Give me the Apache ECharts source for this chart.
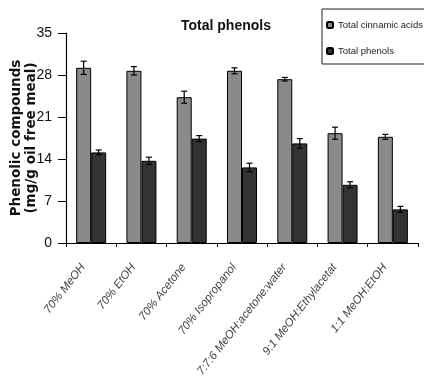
<!DOCTYPE html>
<html><head><meta charset="utf-8">
<script src="https://cdn.jsdelivr.net/npm/echarts@6/dist/echarts.min.js"></script>
<style>html,body{margin:0;padding:0;background:#fff}#c{width:424px;height:392px}</style>
</head><body><div id="c"></div>
<script>
const categories = ['70% MeOH','70% EtOH','70% Acetone','70% Isopropanol','7:7:6 MeOH:acetone:water','9:1 MeOH:Ethylacetat','1:1 MeOH:EtOH'];
const cinnamic = [29.2, 28.7, 24.3, 28.7, 27.3, 18.3, 17.7];
const cinnamicErr = [1.1, 0.7, 1.0, 0.5, 0.3, 1.0, 0.4];
const phenols = [15.1, 13.7, 17.4, 12.6, 16.6, 9.7, 5.6];
const phenolsErr = [0.4, 0.6, 0.5, 0.7, 0.8, 0.5, 0.5];
const yTicks = [0, 7, 14, 21, 28, 35];

const BW = 15;
const sans = "'Liberation Sans',Arial,sans-serif";
function errSeries(vals, errs, shift) {
  return {
    type: 'custom', z: 5, silent: true,
    data: vals.map((v, i) => [i, v, errs[i]]),
    renderItem: function (params, api) {
      const x = api.value(0), v = api.value(1), e = api.value(2);
      const top = api.coord([x, v + e]);
      const bot = api.coord([x, v - e]);
      const cx = top[0] + shift;
      const cap = 3;
      const st = { stroke: '#000', lineWidth: 1.2 };
      return { type: 'group', children: [
        { type: 'line', shape: { x1: cx, y1: top[1], x2: cx, y2: bot[1] }, style: st },
        { type: 'line', shape: { x1: cx - cap, y1: top[1], x2: cx + cap, y2: top[1] }, style: st },
        { type: 'line', shape: { x1: cx - cap, y1: bot[1], x2: cx + cap, y2: bot[1] }, style: st }
      ]};
    }
  };
}
const chart = echarts.init(document.getElementById('c'), null, { renderer: 'canvas' });
chart.setOption({
  animation: false,
  backgroundColor: '#fff',
  title: { text: 'Total phenols', left: 176, top: 14,
    textStyle: { fontFamily: sans, fontSize: 14, fontWeight: 'bold', color: '#111' } },
  legend: {
    orient: 'vertical', left: 322, top: 9, padding: [11, 30, 8, 4],
    borderColor: '#222', borderWidth: 1, itemWidth: 6, itemHeight: 6, itemGap: 16,
    textStyle: { fontFamily: sans, fontSize: 9.5, color: '#222' },
    data: ['Total cinnamic acids', 'Total phenols']
  },
  grid: { left: 66, right: 6, top: 33, bottom: 149, outerBoundsMode: 'none', containLabel: false },
  xAxis: {
    type: 'category', data: categories,
    axisLine: { lineStyle: { color: '#000', width: 1.2 } },
    axisTick: { show: true, length: 4, lineStyle: { color: '#000' } },
    axisLabel: { rotate: 52, interval: 0, margin: 12, padding: [0, 13, 0, 0], fontStyle: 'italic', fontSize: 11.5,
      fontFamily: sans, color: '#444' }
  },
  yAxis: {
    type: 'value', min: 0, max: 35, interval: 7,
    name: 'Phenolic compounds\n(mg/g oil free meal)', nameLocation: 'middle', nameGap: 27,
    nameMoveOverlap: false,
    nameTextStyle: { fontWeight: 'bold', fontSize: 13.5, fontFamily: "'DejaVu Sans',sans-serif", color: '#111', lineHeight: 15 },
    axisLine: { show: true, lineStyle: { color: '#000', width: 1.2 } },
    axisTick: { show: true, length: 8, lineStyle: { color: '#000' } },
    splitLine: { show: false },
    axisLabel: { fontFamily: sans, fontSize: 14, color: '#111', margin: 14,
      formatter: v => yTicks.includes(v) ? String(v) : '' }
  },
  series: [
    { name: 'Total cinnamic acids', type: 'bar', data: cinnamic, barWidth: BW, barGap: '0%',
      itemStyle: { color: '#8a8a8a', borderColor: '#000', borderWidth: 1 } },
    { name: 'Total phenols', type: 'bar', data: phenols, barWidth: BW, barGap: '0%',
      itemStyle: { color: '#333333', borderColor: '#000', borderWidth: 1 } },
    errSeries(cinnamic, cinnamicErr, -BW / 2),
    errSeries(phenols, phenolsErr, BW / 2)
  ]
});
</script></body></html>
